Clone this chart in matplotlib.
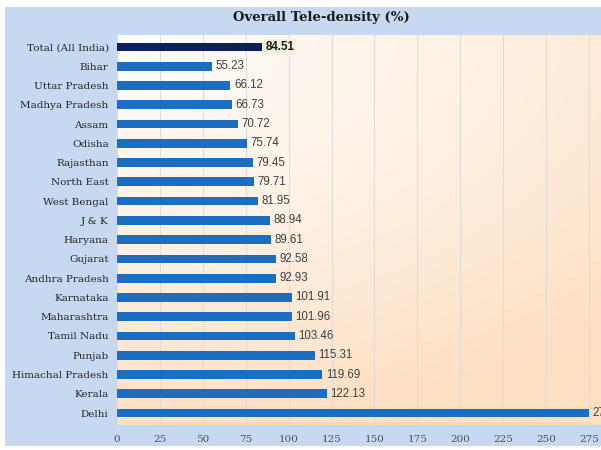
import matplotlib
matplotlib.use("Agg")
from matplotlib import pyplot as plt
from matplotlib.colors import LinearSegmentedColormap
from matplotlib.patches import Rectangle
import numpy as np

# tele-density by state, top to bottom
states = ["Total (All India)", "Bihar", "Uttar Pradesh", "Madhya Pradesh", "Assam",
          "Odisha", "Rajasthan", "North East", "West Bengal", "J & K", "Haryana",
          "Gujarat", "Andhra Pradesh", "Karnataka", "Maharashtra", "Tamil Nadu",
          "Punjab", "Himachal Pradesh", "Kerala", "Delhi"]
density = [84.51, 55.23, 66.12, 66.73, 70.72, 75.74, 79.45, 79.71, 81.95, 88.94,
           89.61, 92.58, 92.93, 101.91, 101.96, 103.46, 115.31, 119.69, 122.13, 275.00]
xticks = list(range(0, 276, 25))

fig = plt.figure(figsize=(6.01, 4.5), dpi=100)
fig.patch.set_facecolor("white")
# light blue panel behind everything
fig.patches.append(Rectangle((5/601, 4/450), 1, 1 - 11/450, transform=fig.transFigure,
                             facecolor="#c6d9f0", edgecolor="none", zorder=-5))

ax = fig.add_axes([117/601, 25/450, (601-117)/601, (415-25)/450])
ax.set_zorder(2)
ax.set_xlim(0, 282)
ax.set_ylim(len(states) - 0.38, -0.62)

# cream-to-peach shading of the plot area
cmap = LinearSegmentedColormap.from_list("shade", ["#fffefc", "#fef1e4", "#fddfc2"])
gx, gy = np.meshgrid(np.linspace(0, 1, 200), np.linspace(0, 1, 200))
grad = np.clip(np.sqrt((0.7*gx)**2 + gy**2) / 1.05, 0, 1)
ax.imshow(grad, cmap=cmap, extent=[0, 282, len(states) - 0.38, -0.62],
          aspect="auto", zorder=0)

for x in xticks:
    ax.axvline(x, color="#e0dcd8", lw=0.8, zorder=1)

y = np.arange(len(states))
colors = ["#0d1f5e"] + ["#1b6ec2"] * (len(states) - 1)
ax.barh(y, density, height=0.45, color=colors, zorder=2)

for i, v in enumerate(density):
    if i == 0:
        ax.text(v + 2, i, f"{v:.2f}", va="center", ha="left", fontsize=8.3,
                fontweight="bold", color="#1a1a1a", family="Liberation Sans",
                bbox=dict(boxstyle="square,pad=0.15", fc="#eef2da", ec="none"),
                zorder=3, clip_on=False)
    else:
        ax.text(v + 2, i, f"{v:.2f}", va="center", ha="left", fontsize=8.3,
                color="#404040", family="Liberation Sans", zorder=3, clip_on=False)

ax.set_yticks(y)
ax.set_yticklabels(states, family="DejaVu Serif", fontsize=7.5, color="#262626")
ax.set_xticks(xticks)
ax.set_xticklabels([str(t) for t in xticks], family="DejaVu Serif", fontsize=7.5,
                   color="#505050")
ax.tick_params(length=0, pad=6)
ax.tick_params(axis="x", pad=7)
for s in ax.spines.values():
    s.set_visible(False)

fig.text(0.535, 1 - 17/450, "Overall Tele-density (%)", ha="center", va="center",
         fontsize=9.5, fontweight="bold", family="DejaVu Serif", color="#1a1a1a")

fig.savefig("out.png", dpi=100)
